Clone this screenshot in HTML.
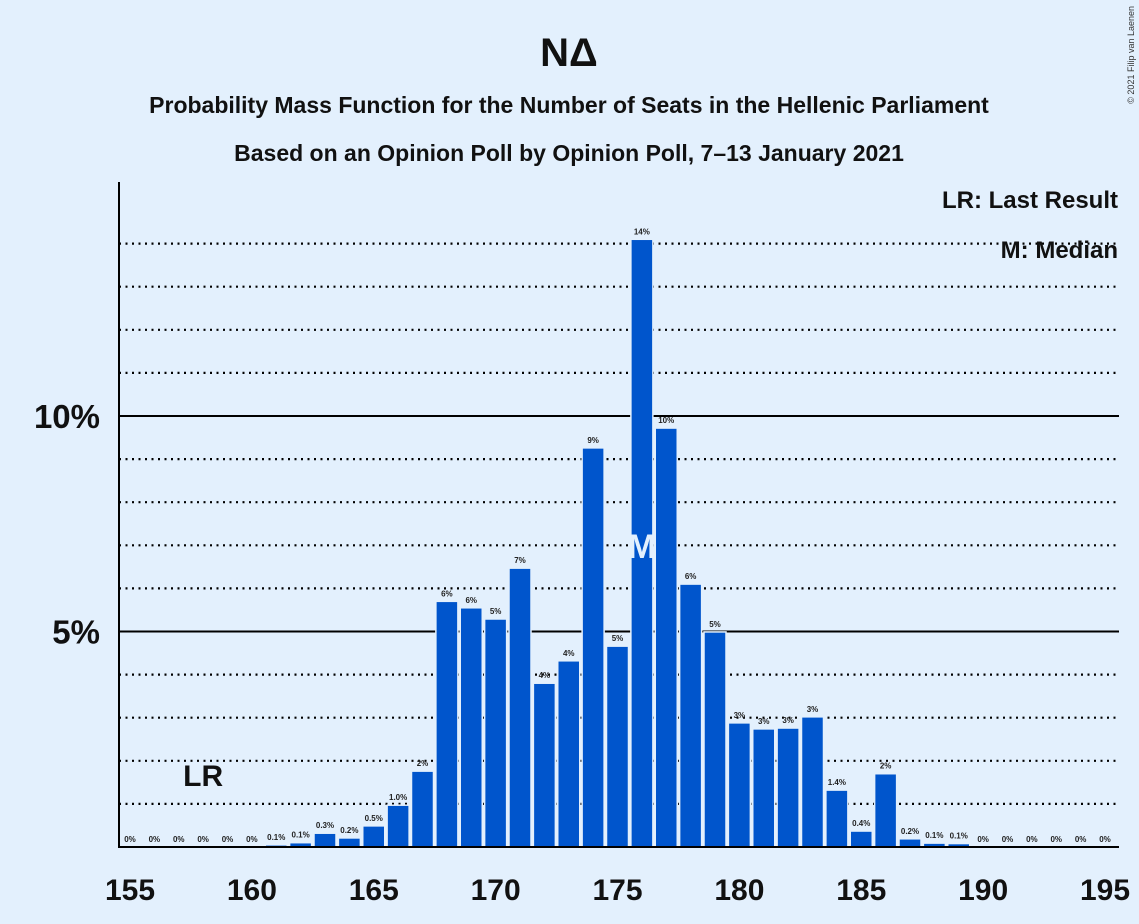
<!DOCTYPE html>
<html><head><meta charset="utf-8"><style>
body{margin:0;background:#e3f0fd;}
svg{display:block;font-family:"Liberation Sans",sans-serif;}
</style></head><body>
<svg id="chart" width="1139" height="924">
<rect width="1139" height="924" fill="#e3f0fd"/>
<text x="569" y="66" text-anchor="middle" font-size="40" font-weight="bold" fill="#111">NΔ</text>
<text x="569" y="113" text-anchor="middle" font-size="23" font-weight="bold" fill="#111">Probability Mass Function for the Number of Seats in the Hellenic Parliament</text>
<text x="569" y="161" text-anchor="middle" font-size="23" font-weight="bold" fill="#111">Based on an Opinion Poll by Opinion Poll, 7–13 January 2021</text>
<text x="1134" y="6" font-size="9" fill="#333" transform="rotate(-90 1134 6)" text-anchor="end">© 2021 Filip van Laenen</text>
<g id="grid"></g>
<g id="bars"></g>
<g id="labels"></g>
<line x1="119" y1="182" x2="119" y2="848" stroke="#000" stroke-width="2"/>
<line x1="118" y1="847" x2="1119" y2="847" stroke="#000" stroke-width="2"/>
<g id="xticks"></g>
<text x="1118" y="208" text-anchor="end" font-size="24" font-weight="bold" fill="#111">LR: Last Result</text>
<text x="1118" y="258" text-anchor="end" font-size="24" font-weight="bold" fill="#111">M: Median</text>
</svg>
<script>
const seats=[155,156,157,158,159,160,161,162,163,164,165,166,167,168,169,170,171,172,173,174,175,176,177,178,179,180,181,182,183,184,185,186,187,188,189,190,191,192,193,194,195];
const probs=[0,0,0,0,0,0,0.05,0.1,0.32,0.21,0.49,0.97,1.76,5.7,5.55,5.29,6.47,3.8,4.32,9.26,4.66,14.1,9.72,6.1,4.99,2.88,2.74,2.76,3.02,1.32,0.37,1.7,0.19,0.09,0.08,0,0,0,0,0,0];
const labels=["0%","0%","0%","0%","0%","0%","0.1%","0.1%","0.3%","0.2%","0.5%","1.0%","2%","6%","6%","5%","7%","4%","4%","9%","5%","14%","10%","6%","5%","3%","3%","3%","3%","1.4%","0.4%","2%","0.2%","0.1%","0.1%","0%","0%","0%","0%","0%","0%"];
const xTicks=[155,160,165,170,175,180,185,190,195];
const yTicks=[5,10];
const lastResult=158, median=176;
const NS="http://www.w3.org/2000/svg";
const X=s=>130+(s-155)*24.375;
const Y=p=>847-p*43.1;
function mk(t,a,parent){const e=document.createElementNS(NS,t);for(const k in a)e.setAttribute(k,a[k]);document.getElementById(parent).appendChild(e);return e;}
for(let p=1;p<=14;p++){
  const solid=yTicks.includes(p);
  const l=mk('line',{x1:119,x2:1119,y1:Y(p),y2:Y(p),stroke:'#000','stroke-width':solid?2:2.2,'stroke-dasharray':solid?'':'2 4.5'},'grid');
  
  
}
yTicks.forEach(p=>{
  const t=mk('text',{x:100,y:Y(p)+12,'text-anchor':'end','font-size':33,'font-weight':'bold',fill:'#111'},'xticks');
  t.textContent=p+'%';
  
  
});
xTicks.forEach(s=>{
  const t=mk('text',{x:X(s),y:900,'text-anchor':'middle','font-size':30,'font-weight':'bold',fill:'#111'},'xticks');
  t.textContent=s;
  
  
});
seats.forEach((s,i)=>{
  const p=probs[i];
  if(p>0){
    const r=mk('rect',{x:X(s)-11,y:Y(p),width:22,height:847-Y(p),fill:'#0055cc',stroke:'#e3f0fd','stroke-width':1.5},'bars');
    
    
  }
  const t=mk('text',{x:X(s),y:Y(p)-5,'text-anchor':'middle','font-size':8,'font-weight':'bold',fill:'#222'},'labels');
  t.textContent=labels[i];
  
  
});
const m=mk('text',{x:X(median),y:558,'text-anchor':'middle','font-size':34,'font-weight':'bold',fill:'#e3f0fd'},'labels');
m.textContent='M';


const lr=mk('text',{x:X(lastResult),y:786,'text-anchor':'middle','font-size':30,'font-weight':'bold',fill:'#111'},'labels');
lr.textContent='LR';


</script>
</body></html>
